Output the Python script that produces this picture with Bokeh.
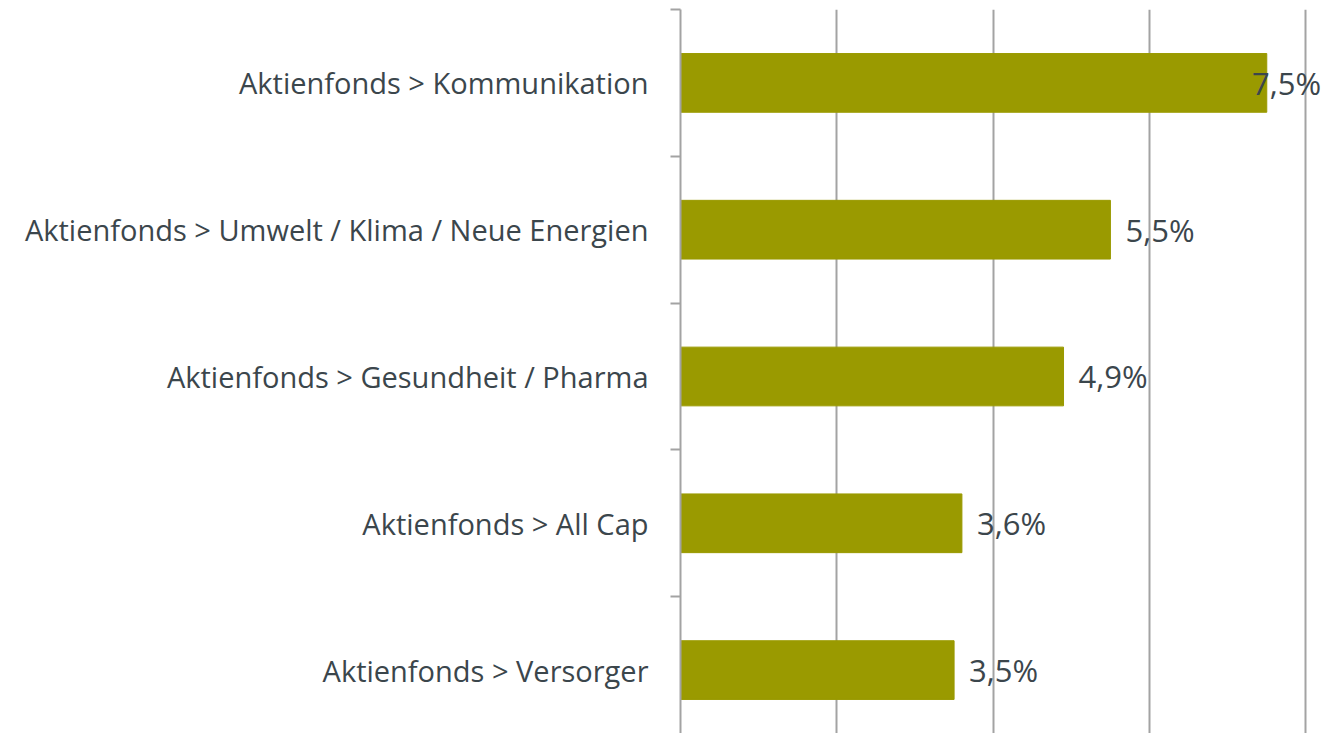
from bokeh.plotting import figure
from bokeh.models import FixedTicker, ColumnDataSource, Range1d
from bokeh.core.properties import value
from bokeh.embed import file_html
from bokeh.resources import INLINE

categories = ["Aktienfonds > Kommunikation",
              "Aktienfonds > Umwelt / Klima / Neue Energien",
              "Aktienfonds > Gesundheit / Pharma",
              "Aktienfonds > All Cap",
              "Aktienfonds > Versorger"]
values = [7.5, 5.5, 4.9, 3.6, 3.5]
value_labels = ["7,5%", "5,5%", "4,9%", "3,6%", "3,5%"]

n = len(categories)
ypos = [n - 1 - i for i in range(n)]
label_x = [min(v, 7.12) for v in values]

src = ColumnDataSource(dict(y=ypos, v=values, lx=label_x, t=value_labels))

TEXT = "#3b464c"
GRID = "#a3a3a3"

p = figure(width=1322, height=733, output_backend="svg", toolbar_location=None,
           x_range=Range1d(0, 8.213), y_range=Range1d(-0.432, n - 0.5),
           min_border_left=680, min_border_top=9, min_border_right=0, min_border_bottom=0)
p.outline_line_color = None
p.background_fill_color = "white"

p.hbar(y="y", right="v", left=0, height=0.4, source=src, color="#9a9a00")
p.text(x="lx", y="y", text="t", source=src, x_offset=15, text_baseline="middle",
       text_align="left", text_font=value("Open Sans"), text_font_size="31px",
       text_color=TEXT)

p.xaxis.visible = False
p.xaxis.ticker = FixedTicker(ticks=[0, 2, 4, 6, 8])
p.xgrid.ticker = FixedTicker(ticks=[0, 2, 4, 6, 8])
p.xgrid.grid_line_color = GRID
p.xgrid.grid_line_width = 2
p.ygrid.grid_line_color = None

ya = p.yaxis[0]
ya.ticker = FixedTicker(ticks=ypos, minor_ticks=[i + 0.5 for i in range(-1, n)])
ya.major_label_overrides = {y: c for y, c in zip(ypos, categories)}
ya.major_tick_line_color = None
ya.major_tick_out = 10
ya.major_tick_in = 0
ya.minor_tick_out = 10
ya.minor_tick_in = 0
ya.minor_tick_line_color = GRID
ya.minor_tick_line_width = 2
ya.axis_line_color = GRID
ya.axis_line_width = 2
ya.major_label_standoff = 22
ya.major_label_text_font = "Open Sans"
ya.major_label_text_font_size = "29px"
ya.major_label_text_color = TEXT

open("out.html", "w").write(file_html(p, INLINE))
